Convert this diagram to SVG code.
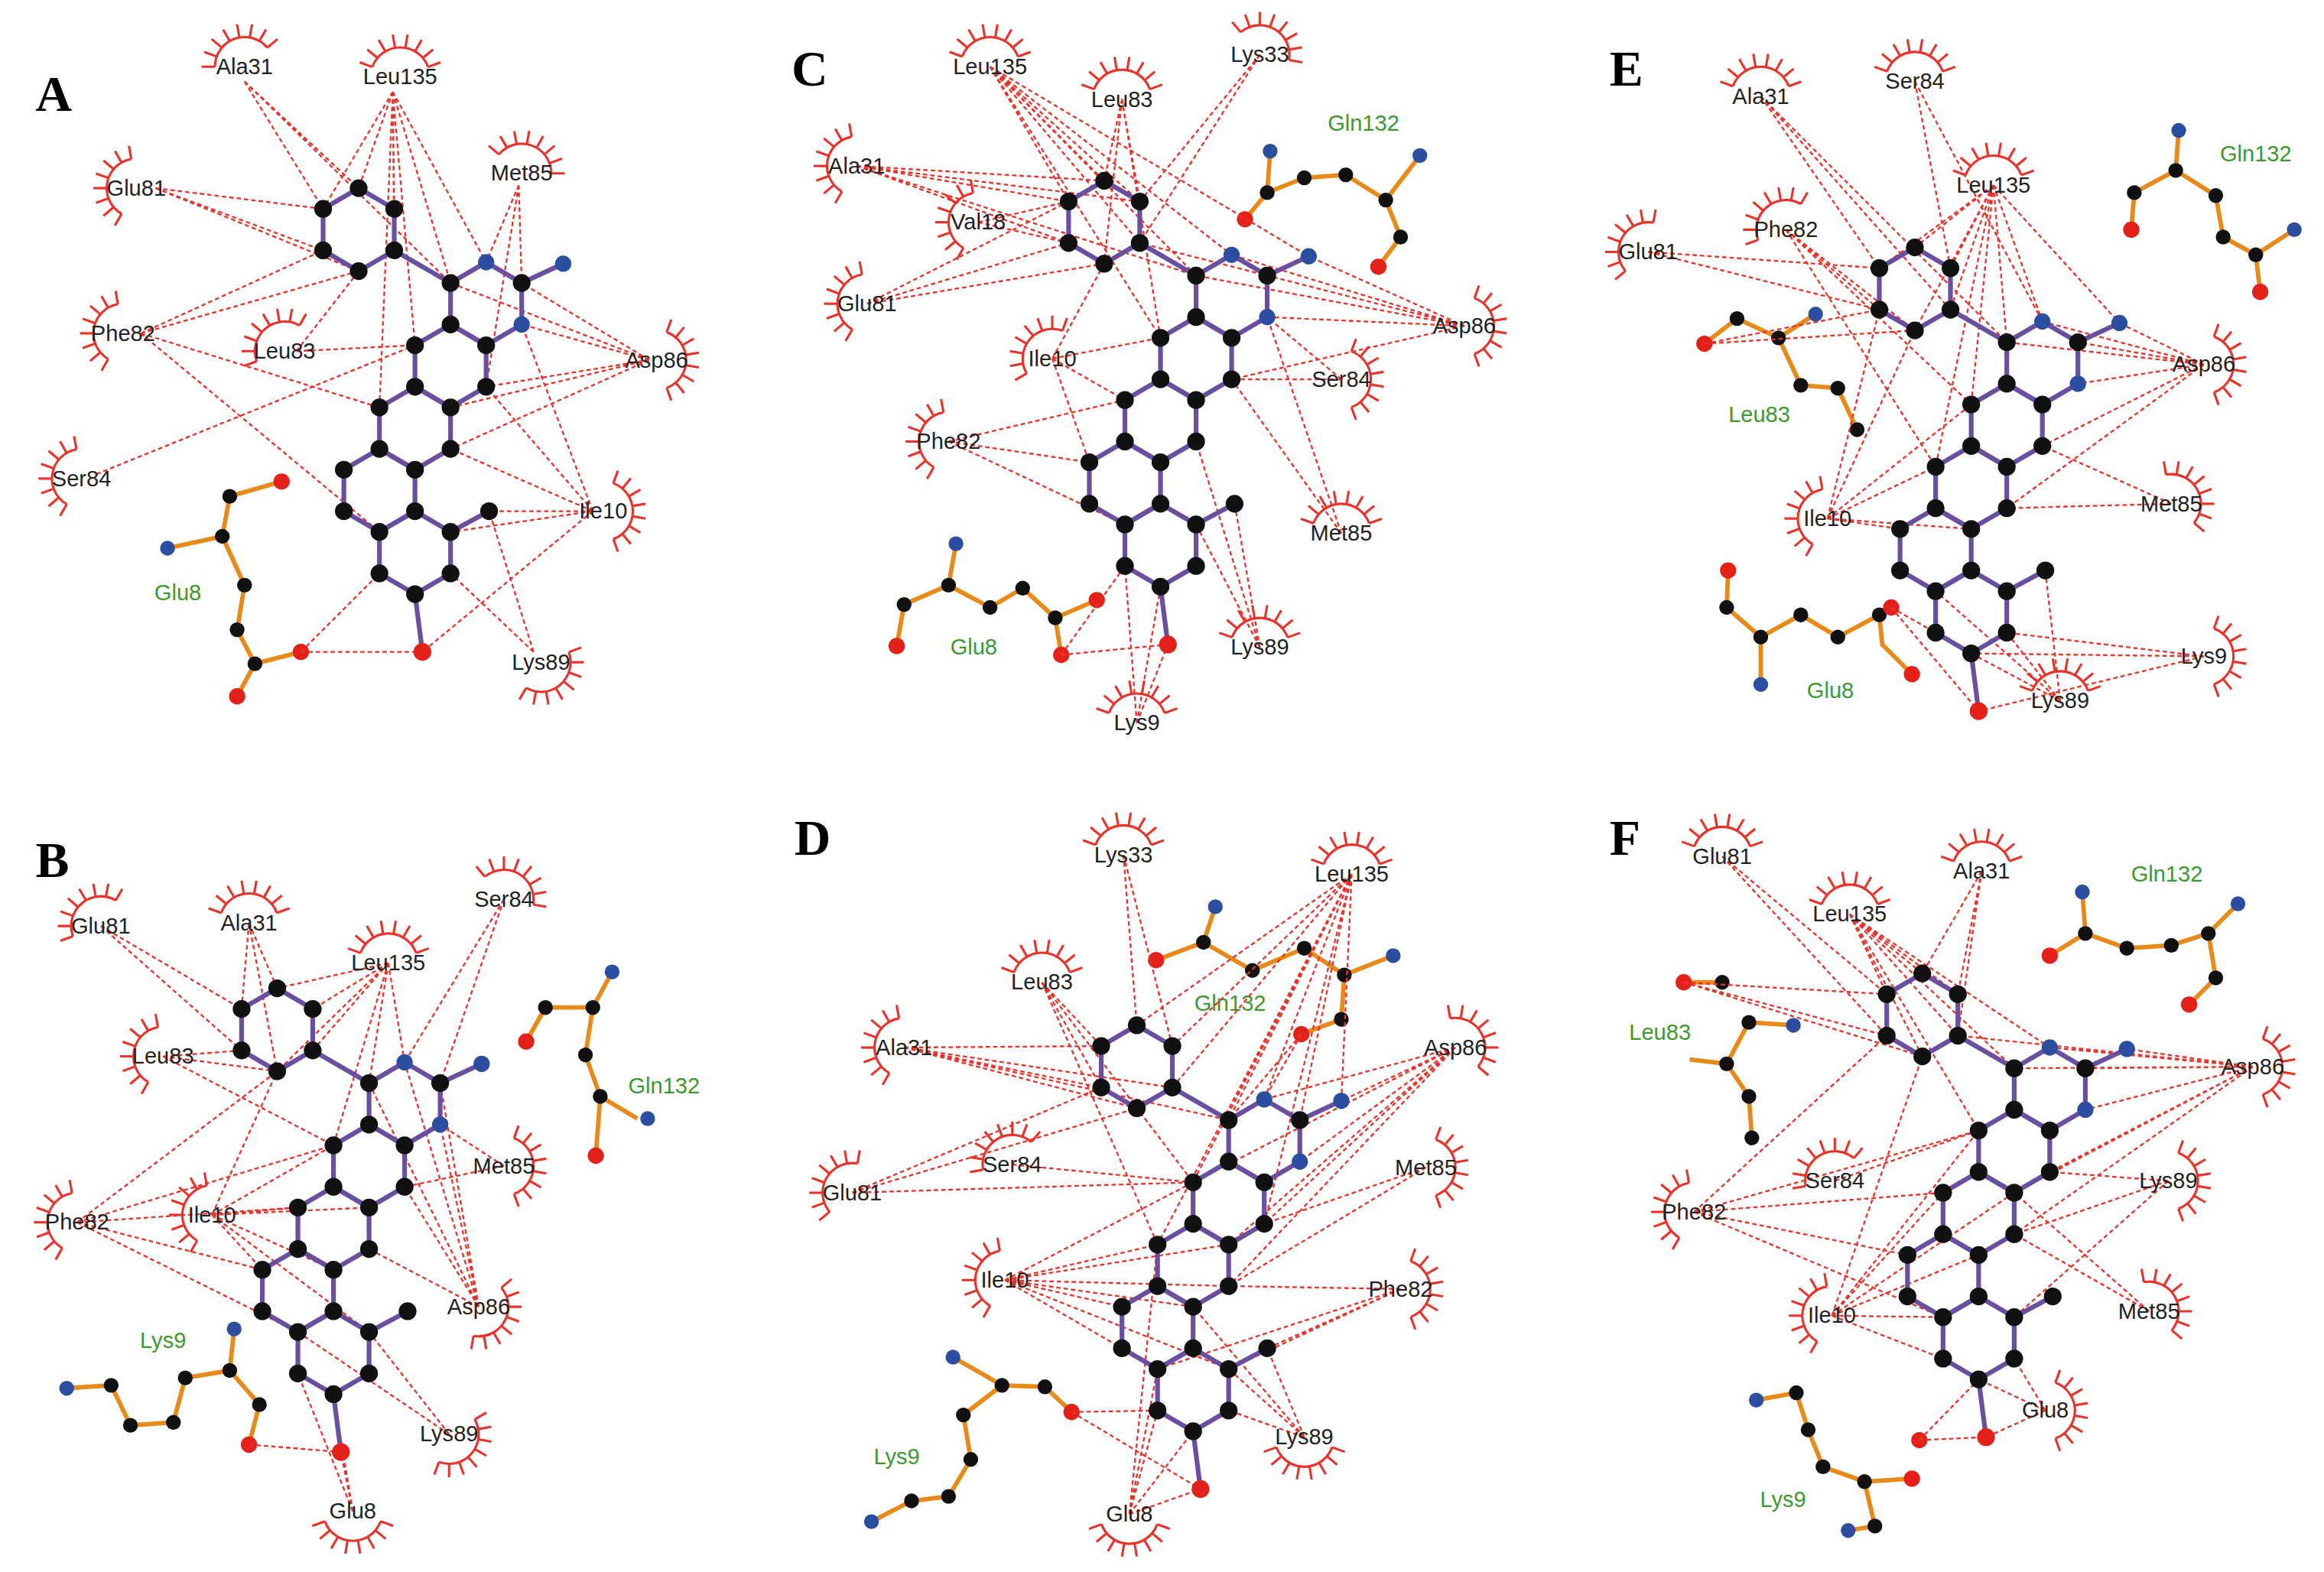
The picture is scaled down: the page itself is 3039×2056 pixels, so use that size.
<svg xmlns="http://www.w3.org/2000/svg" xmlns:xlink="http://www.w3.org/1999/xlink" width="3039" height="2056" viewBox="0 0 3039 2056">
<style>
.hb{fill:none;stroke:#e8322a;stroke-width:1.2;stroke-dasharray:3 2}
.ey{fill:none;stroke:#e8322a;stroke-width:1.6}
.bd{fill:none;stroke:#6a4fa0;stroke-width:3.2;stroke-linejoin:round}
.ch{fill:none;stroke:#e88a1a;stroke-width:3}
.k{fill:#111}.n{fill:#2b4ea0}.o{fill:#e32119}
.lb{font-family:"Liberation Sans",Arial,sans-serif;font-size:15px;fill:#222;text-anchor:middle}
.gr{font-family:"Liberation Sans",Arial,sans-serif;font-size:15px;fill:#3a9a2e;text-anchor:middle}
.pl{font-family:"Liberation Serif","Times New Roman",serif;font-size:34px;font-weight:bold;fill:#000}
</style>
<defs>
<g id="eye" class="ey">
<path d="M-18.8 -6.8A20 20 0 0 1 18.8 -6.8M-18.8 -6.8L-27.3 -9.9M-15.3 -12.9L-22.2 -18.6M-10 -17.3L-14.5 -25.1M-3.5 -19.7L-5 -28.6M3.5 -19.7L5 -28.6M10 -17.3L14.5 -25.1M15.3 -12.9L22.2 -18.6M18.8 -6.8L27.3 -9.9"/>
</g>
<g id="lig">
<g class="bd">
<polygon points="266,169 242,183 218,169 218,141 242,127 266,141"/>
<polygon points="352,219 328,233 304,219 304,191 328,177 352,191"/>
<polygon points="328,261 304,275 280,261 280,233 304,219 328,233"/>
<polygon points="304,303 280,317 256,303 256,275 280,261 304,275"/>
<polygon points="280,345 256,359 232,345 232,317 256,303 280,317"/>
<polygon points="304,387 280,401 256,387 256,359 280,345 304,359"/>
<path d="M266,169L304,191M352,191L380,178M280,401L285,440M304,359L330,345"/>
</g>
<g class="k">
<circle cx="266" cy="169" r="6"/><circle cx="242" cy="183" r="6"/><circle cx="218" cy="169" r="6"/><circle cx="218" cy="141" r="6"/><circle cx="242" cy="127" r="6"/><circle cx="266" cy="141" r="6"/>
<circle cx="328" cy="233" r="6"/><circle cx="304" cy="219" r="6"/><circle cx="304" cy="191" r="6"/><circle cx="352" cy="191" r="6"/>
<circle cx="328" cy="261" r="6"/><circle cx="304" cy="275" r="6"/><circle cx="280" cy="261" r="6"/><circle cx="280" cy="233" r="6"/>
<circle cx="304" cy="303" r="6"/><circle cx="280" cy="317" r="6"/><circle cx="256" cy="303" r="6"/><circle cx="256" cy="275" r="6"/>
<circle cx="280" cy="345" r="6"/><circle cx="256" cy="359" r="6"/><circle cx="232" cy="345" r="6"/><circle cx="232" cy="317" r="6"/>
<circle cx="304" cy="387" r="6"/><circle cx="280" cy="401" r="6"/><circle cx="256" cy="387" r="6"/><circle cx="304" cy="359" r="6"/><circle cx="330" cy="345" r="6"/>
</g>
<g class="n"><circle cx="328" cy="177" r="5.5"/><circle cx="352" cy="219" r="5.5"/><circle cx="380" cy="178" r="5.5"/></g>
<circle class="o" cx="285" cy="440" r="6"/>
</g>
</defs>
<rect width="3039" height="2056" fill="#fff"/>
<g transform="scale(1.9381 1.9378)">
<text class="pl" x="24" y="75">A</text><text class="pl" x="24" y="592">B</text>
<text class="pl" x="534" y="58">C</text><text class="pl" x="536" y="577">D</text>
<text class="pl" x="1086" y="58">E</text><text class="pl" x="1086" y="577">F</text>

<!-- Panel A -->
<g id="panelA">
<path class="ch" d="M113,370L150,362L155,335L190,325M150,362L165,395L160,425L172,448L203,440M172,448L160,470"/>
<g class="k"><circle cx="150" cy="362" r="5"/><circle cx="155" cy="335" r="5"/><circle cx="165" cy="395" r="5"/><circle cx="160" cy="425" r="5"/><circle cx="172" cy="448" r="5"/></g>
<circle class="n" cx="113" cy="370" r="5"/><circle class="o" cx="190" cy="325" r="5.5"/><circle class="o" cx="203" cy="440" r="5.5"/><circle class="o" cx="160" cy="470" r="5.5"/>
<text class="gr" x="120" y="405">Glu8</text>
<g id="connA"><path class="hb" d="M165 55L218 141M165 55L242 127M165 55L304 191M265 62L242 127M265 62L266 141M265 62L266 169M265 62L328 177M265 62L304 191M265 62L218 141M265 62L280 233M265 62L256 275M105 127L218 141M105 127L218 169M105 127L242 183M350 125L328 177M350 125L352 191M350 125L328 261M95 225L218 169M95 225L242 183M95 225L256 275M95 225L256 359M200 237L242 183M200 237L280 233M438 243L352 191M438 243L352 219M438 243L328 261M438 243L304 303M438 243L304 191M438 243L304 275M65 320L280 233M400 345L352 219M400 345L328 261M400 345L304 303M400 345L304 359M400 345L285 440M400 345L330 345M360 440L330 345M360 440L304 387M203 440L285 440M203 440L256 387"/></g>
<use href="#lig"/>
<g id="resA">
<use href="#eye" transform="translate(165 45) rotate(-20)"/><text class="lb" x="165" y="50">Ala31</text>
<use href="#eye" transform="translate(270 52)"/><text class="lb" x="270" y="57">Leu135</text>
<use href="#eye" transform="translate(92 127) rotate(-80)"/><text class="lb" x="92" y="132">Glu81</text>
<use href="#eye" transform="translate(352 117) rotate(20)"/><text class="lb" x="352" y="122">Met85</text>
<use href="#eye" transform="translate(83 225) rotate(-80)"/><text class="lb" x="83" y="230">Phe82</text>
<use href="#eye" transform="translate(192 237) rotate(-40)"/><text class="lb" x="192" y="242">Leu83</text>
<use href="#eye" transform="translate(443 243) rotate(90)"/><text class="lb" x="443" y="248">Asp86</text>
<use href="#eye" transform="translate(55 323) rotate(-80)"/><text class="lb" x="55" y="328">Ser84</text>
<use href="#eye" transform="translate(407 345) rotate(90)"/><text class="lb" x="407" y="350">Ile10</text>
<use href="#eye" transform="translate(365 447) rotate(140)"/><text class="lb" x="365" y="452">Lys89</text>
</g>
</g>

<!-- Panel B -->
<g id="panelB">
<path class="ch" d="M45,937L75,935L88,962L117,960L125,930L155,925L158,897M155,925L175,948L168,975M355,703L368,680L400,680L413,656M400,680L395,712L405,740L430,755M405,740L402,780"/>
<g class="k"><circle cx="75" cy="935" r="5"/><circle cx="88" cy="962" r="5"/><circle cx="117" cy="960" r="5"/><circle cx="125" cy="930" r="5"/><circle cx="155" cy="925" r="5"/><circle cx="175" cy="948" r="5"/><circle cx="368" cy="680" r="5"/><circle cx="400" cy="680" r="5"/><circle cx="395" cy="712" r="5"/><circle cx="405" cy="740" r="5"/></g>
<g class="n"><circle cx="45" cy="937" r="5"/><circle cx="158" cy="897" r="5"/><circle cx="413" cy="656" r="5"/><circle cx="437" cy="755" r="5"/></g>
<g class="o"><circle cx="168" cy="975" r="5.5"/><circle cx="355" cy="703" r="5.5"/><circle cx="402" cy="780" r="5.5"/></g>
<text class="gr" x="110" y="910">Lys9</text><text class="gr" x="448" y="738">Gln132</text>
<g transform="translate(-55 540)">
<g id="connB"><path class="hb" d="M123 85L218 141M123 85L218 169M223 83L218 141M223 83L242 127M223 83L242 183M317 110L242 127M317 110L266 141M317 110L266 169M317 110L328 177M317 110L304 191M317 110L242 183M317 110L280 233M395 67L328 177M395 67L352 191M165 173L218 169M165 173L242 183M165 173L280 233M395 247L352 219M395 247L328 261M107 285L242 183M107 285L280 233M107 285L256 275M107 285L232 317M107 285L256 359M198 280L242 183M198 280L280 233M198 280L304 275M198 280L256 275M198 280L280 317M198 280L232 317M198 280L304 359M378 342L328 177M378 342L352 191M378 342L352 219M378 342L328 261M378 342L304 303M378 342L304 191M358 428L256 359M358 428L304 359M293 480L280 401M293 480L285 440M293 480L256 387M223 435L285 440"/></g>
<use href="#lig"/>
</g>
<g id="resB">
<use href="#eye" transform="translate(68 625) rotate(-40)"/><text class="lb" x="68" y="630">Glu81</text>
<use href="#eye" transform="translate(168 623)"/><text class="lb" x="168" y="628">Ala31</text>
<use href="#eye" transform="translate(262 650)"/><text class="lb" x="262" y="655">Leu135</text>
<use href="#eye" transform="translate(340 607) rotate(30)"/><text class="lb" x="340" y="612">Ser84</text>
<use href="#eye" transform="translate(110 713) rotate(-80)"/><text class="lb" x="110" y="718">Leu83</text>
<use href="#eye" transform="translate(340 787) rotate(90)"/><text class="lb" x="340" y="792">Met85</text>
<use href="#eye" transform="translate(52 825) rotate(-80)"/><text class="lb" x="52" y="830">Phe82</text>
<use href="#eye" transform="translate(143 820) rotate(-80)"/><text class="lb" x="143" y="825">Ile10</text>
<use href="#eye" transform="translate(323 882) rotate(120)"/><text class="lb" x="323" y="887">Asp86</text>
<use href="#eye" transform="translate(303 968) rotate(130)"/><text class="lb" x="303" y="973">Lys89</text>
<use href="#eye" transform="translate(238 1020) rotate(180)"/><text class="lb" x="238" y="1025">Glu8</text>
</g>
</g>

<!-- Panel C -->
<g id="panelC">
<path class="ch" d="M857,102L855,130L840,148M855,130L880,120L908,118L935,135L958,105M935,135L945,160L930,180M605,436L610,408L640,395L645,367M640,395L668,410L690,397L712,417L716,442M712,417L740,405"/>
<g class="k"><circle cx="855" cy="130" r="5"/><circle cx="880" cy="120" r="5"/><circle cx="908" cy="118" r="5"/><circle cx="935" cy="135" r="5"/><circle cx="945" cy="160" r="5"/><circle cx="610" cy="408" r="5"/><circle cx="640" cy="395" r="5"/><circle cx="668" cy="410" r="5"/><circle cx="690" cy="397" r="5"/><circle cx="712" cy="417" r="5"/></g>
<g class="n"><circle cx="857" cy="102" r="5"/><circle cx="958" cy="105" r="5"/><circle cx="645" cy="367" r="5"/></g>
<g class="o"><circle cx="840" cy="148" r="5.5"/><circle cx="930" cy="180" r="5.5"/><circle cx="605" cy="436" r="5.5"/><circle cx="716" cy="442" r="5.5"/><circle cx="740" cy="405" r="5.5"/></g>
<text class="gr" x="920" y="88">Gln132</text><text class="gr" x="657" y="442">Glu8</text>
<g transform="translate(503 -5)">
<g id="connC"><path class="hb" d="M165 50L242 127M165 50L266 141M165 50L218 141M165 50L266 169M165 50L328 177M165 50L304 191M165 50L380 178M165 50L280 233M347 42L266 141M347 42L266 169M254 72L242 127M254 72L266 141M254 72L242 183M254 72L280 233M75 117L242 127M75 117L218 141M75 117L218 169M75 117L266 141M75 117L304 191M157 155L218 141M157 155L218 169M82 210L218 141M82 210L218 169M82 210L242 183M485 225L328 177M485 225L352 191M485 225L352 219M485 225L380 178M485 225L328 261M485 225L304 191M485 225L266 169M207 247L242 183M207 247L280 233M207 247L256 275M207 247L232 317M402 261L328 261M402 261L352 219M137 303L256 275M137 303L232 317M137 303L256 359M402 365L328 261M402 365L352 219M347 442L304 359M347 442L330 345M347 442L304 303M264 493L285 440M264 493L280 401M264 493L256 387M213 447L285 440M213 447L256 387"/></g>
<use href="#lig"/>
</g>
<g id="resC">
<use href="#eye" transform="translate(668 45)"/><text class="lb" x="668" y="50">Leu135</text>
<use href="#eye" transform="translate(850 37) rotate(30)"/><text class="lb" x="850" y="42">Lys33</text>
<use href="#eye" transform="translate(757 67)"/><text class="lb" x="757" y="72">Leu83</text>
<use href="#eye" transform="translate(578 112) rotate(-80)"/><text class="lb" x="578" y="117">Ala31</text>
<use href="#eye" transform="translate(660 150) rotate(-80)"/><text class="lb" x="660" y="155">Val18</text>
<use href="#eye" transform="translate(585 205) rotate(-80)"/><text class="lb" x="585" y="210">Glu81</text>
<use href="#eye" transform="translate(988 220) rotate(90)"/><text class="lb" x="988" y="225">Asp86</text>
<use href="#eye" transform="translate(710 242) rotate(-50)"/><text class="lb" x="710" y="247">Ile10</text>
<use href="#eye" transform="translate(905 256) rotate(90)"/><text class="lb" x="905" y="261">Ser84</text>
<use href="#eye" transform="translate(640 298) rotate(-80)"/><text class="lb" x="640" y="303">Phe82</text>
<use href="#eye" transform="translate(905 360)"/><text class="lb" x="905" y="365">Met85</text>
<use href="#eye" transform="translate(850 437)"/><text class="lb" x="850" y="442">Lys89</text>
<use href="#eye" transform="translate(767 488)"/><text class="lb" x="767" y="493">Lys9</text>
</g>
</g>

<!-- Panel D -->
<g id="panelD">
<path class="ch" d="M780,648L812,636L820,612M812,636L845,655L880,640L907,658L940,645M907,658L905,688L878,698M643,916L676,935L705,936L723,953M676,935L650,955L655,985L640,1010L615,1013L588,1027"/>
<g class="k"><circle cx="812" cy="636" r="5"/><circle cx="845" cy="655" r="5"/><circle cx="880" cy="640" r="5"/><circle cx="907" cy="658" r="5"/><circle cx="905" cy="688" r="5"/><circle cx="676" cy="935" r="5"/><circle cx="705" cy="936" r="5"/><circle cx="650" cy="955" r="5"/><circle cx="655" cy="985" r="5"/><circle cx="640" cy="1010" r="5"/><circle cx="615" cy="1013" r="5"/></g>
<g class="n"><circle cx="820" cy="612" r="5"/><circle cx="940" cy="645" r="5"/><circle cx="643" cy="916" r="5"/><circle cx="588" cy="1027" r="5"/></g>
<g class="o"><circle cx="780" cy="648" r="5.5"/><circle cx="878" cy="698" r="5.5"/><circle cx="723" cy="953" r="5.5"/></g>
<text class="gr" x="830" y="682">Gln132</text><text class="gr" x="605" y="988">Lys9</text>
<g transform="translate(525 565)">
<g id="connD"><path class="hb" d="M233 12L242 127M233 12L266 141M387 25L242 127M387 25L266 141M387 25L266 169M387 25L304 191M387 25L328 177M387 25L380 178M387 25L352 191M387 25L328 261M387 25L280 233M387 25L256 275M178 98L218 141M178 98L218 169M178 98L280 233M178 98L256 275M85 142L218 141M85 142L218 169M85 142L242 183M85 142L266 169M85 142L304 191M457 142L328 177M457 142L352 191M457 142L352 219M457 142L328 261M457 142L304 303M457 142L304 275M457 142L280 233M158 221L280 233M437 223L328 261M437 223L304 303M50 240L218 169M50 240L242 183M50 240L280 233M153 299L280 233M153 299L304 275M153 299L304 303M153 299L256 275M153 299L280 317M153 299L232 345M153 299L232 317M153 299L256 359M153 299L304 359M420 305L304 303M420 305L304 359M420 305L330 345M420 305L256 359M355 405L304 387M355 405L330 345M355 405L280 317M355 405L304 359M237 457L280 401M237 457L285 440M237 457L256 387M237 457L256 359M237 457L256 275M198 388L285 440M198 388L256 387M353 133L328 177M353 133L304 191"/></g>
<use href="#lig"/>
</g>
<g id="resD">
<use href="#eye" transform="translate(758 577)"/><text class="lb" x="758" y="582">Lys33</text>
<use href="#eye" transform="translate(912 590)"/><text class="lb" x="912" y="595">Leu135</text>
<use href="#eye" transform="translate(703 663)"/><text class="lb" x="703" y="668">Leu83</text>
<use href="#eye" transform="translate(610 707) rotate(-80)"/><text class="lb" x="610" y="712">Ala31</text>
<use href="#eye" transform="translate(982 707) rotate(60)"/><text class="lb" x="982" y="712">Asp86</text>
<use href="#eye" transform="translate(683 786) rotate(-30)"/><text class="lb" x="683" y="791">Ser84</text>
<use href="#eye" transform="translate(962 788) rotate(90)"/><text class="lb" x="962" y="793">Met85</text>
<use href="#eye" transform="translate(575 805) rotate(-60)"/><text class="lb" x="575" y="810">Glu81</text>
<use href="#eye" transform="translate(678 864) rotate(-80)"/><text class="lb" x="678" y="869">Ile10</text>
<use href="#eye" transform="translate(945 870) rotate(90)"/><text class="lb" x="945" y="875">Phe82</text>
<use href="#eye" transform="translate(880 970) rotate(180)"/><text class="lb" x="880" y="975">Lys89</text>
<use href="#eye" transform="translate(762 1022) rotate(180)"/><text class="lb" x="762" y="1027">Glu8</text>
</g>
</g>

<!-- Panel E -->
<g id="panelE">
<path class="ch" d="M1438,155L1440,130L1468,115L1470,88M1468,115L1495,132L1500,160L1522,172L1548,155M1522,172L1525,197M1150,232L1172,215L1200,228L1225,212M1200,228L1215,260L1240,262L1253,290M1166,385L1165,410L1188,430L1188,462M1188,430L1215,415L1240,430L1268,415L1276,410M1268,415L1270,435L1290,455"/>
<g class="k"><circle cx="1440" cy="130" r="5"/><circle cx="1468" cy="115" r="5"/><circle cx="1495" cy="132" r="5"/><circle cx="1500" cy="160" r="5"/><circle cx="1522" cy="172" r="5"/><circle cx="1172" cy="215" r="5"/><circle cx="1200" cy="228" r="5"/><circle cx="1215" cy="260" r="5"/><circle cx="1240" cy="262" r="5"/><circle cx="1253" cy="290" r="5"/><circle cx="1165" cy="410" r="5"/><circle cx="1188" cy="430" r="5"/><circle cx="1215" cy="415" r="5"/><circle cx="1240" cy="430" r="5"/><circle cx="1268" cy="415" r="5"/></g>
<g class="n"><circle cx="1470" cy="88" r="5"/><circle cx="1548" cy="155" r="5"/><circle cx="1225" cy="212" r="5"/><circle cx="1188" cy="462" r="5"/></g>
<g class="o"><circle cx="1438" cy="155" r="5.5"/><circle cx="1525" cy="197" r="5.5"/><circle cx="1150" cy="232" r="5.5"/><circle cx="1166" cy="385" r="5.5"/><circle cx="1276" cy="410" r="5.5"/><circle cx="1290" cy="455" r="5.5"/></g>
<text class="gr" x="1522" y="109">Gln132</text><text class="gr" x="1187" y="285">Leu83</text><text class="gr" x="1235" y="471">Glu8</text>
<g transform="translate(1050 40)">
<g id="connE"><path class="hb" d="M138 25L218 141M138 25L266 169M138 25L304 191M242 15L266 141M242 15L328 177M295 85L242 127M295 85L266 141M295 85L218 141M295 85L266 169M295 85L242 183M295 85L328 177M295 85L304 191M295 85L280 233M295 85L256 275M295 85L380 178M155 115L218 169M155 115L242 183M155 115L280 233M155 115L256 275M62 130L218 141M62 130L218 169M437 206L328 177M437 206L352 191M437 206L352 219M437 206L380 178M437 206L328 261M437 206L304 303M437 206L304 191M415 300L328 261M415 300L304 303M183 310L280 233M183 310L256 275M183 310L232 317M183 310L242 183M183 310L218 169M183 310L280 317M340 433L304 387M340 433L280 401M340 433L330 345M340 433L256 359M437 403L285 440M437 403L304 387M437 403L280 401M226 370L285 440M226 370L256 387M100 192L218 169M100 192L242 183"/></g>
<use href="#lig"/>
</g>
<g id="resE">
<use href="#eye" transform="translate(1188 65)"/><text class="lb" x="1188" y="70">Ala31</text>
<use href="#eye" transform="translate(1292 55)"/><text class="lb" x="1292" y="60">Ser84</text>
<use href="#eye" transform="translate(1345 125)"/><text class="lb" x="1345" y="130">Leu135</text>
<use href="#eye" transform="translate(1205 155) rotate(-40)"/><text class="lb" x="1205" y="160">Phe82</text>
<use href="#eye" transform="translate(1112 170) rotate(-60)"/><text class="lb" x="1112" y="175">Glu81</text>
<use href="#eye" transform="translate(1487 246) rotate(90)"/><text class="lb" x="1487" y="251">Asp86</text>
<use href="#eye" transform="translate(1465 340) rotate(60)"/><text class="lb" x="1465" y="345">Met85</text>
<use href="#eye" transform="translate(1233 350) rotate(-80)"/><text class="lb" x="1233" y="355">Ile10</text>
<use href="#eye" transform="translate(1390 473)"/><text class="lb" x="1390" y="478">Lys89</text>
<use href="#eye" transform="translate(1487 443) rotate(90)"/><text class="lb" x="1487" y="448">Lys9</text>
</g>
</g>

<!-- Panel F -->
<g id="panelF">
<path class="ch" d="M1383,645L1407,630L1405,602M1407,630L1435,640L1465,638L1490,630L1510,610M1490,630L1495,660L1477,678M1136,663L1162,663M1180,690L1165,718L1180,740L1182,768M1180,690L1210,692M1165,718L1140,715M1185,945L1212,940L1220,965L1230,990L1258,1000L1265,1030L1247,1033M1258,1000L1290,998"/>
<g class="k"><circle cx="1162" cy="663" r="5"/><circle cx="1407" cy="630" r="5"/><circle cx="1435" cy="640" r="5"/><circle cx="1465" cy="638" r="5"/><circle cx="1490" cy="630" r="5"/><circle cx="1495" cy="660" r="5"/><circle cx="1180" cy="690" r="5"/><circle cx="1165" cy="718" r="5"/><circle cx="1180" cy="740" r="5"/><circle cx="1182" cy="768" r="5"/><circle cx="1212" cy="940" r="5"/><circle cx="1220" cy="965" r="5"/><circle cx="1230" cy="990" r="5"/><circle cx="1258" cy="1000" r="5"/><circle cx="1265" cy="1030" r="5"/></g>
<g class="n"><circle cx="1405" cy="602" r="5"/><circle cx="1510" cy="610" r="5"/><circle cx="1210" cy="692" r="5"/><circle cx="1185" cy="945" r="5"/><circle cx="1247" cy="1033" r="5"/></g>
<g class="o"><circle cx="1383" cy="645" r="5.5"/><circle cx="1477" cy="678" r="5.5"/><circle cx="1136" cy="663" r="5.5"/><circle cx="1290" cy="998" r="5.5"/><circle cx="1295" cy="972" r="5.5"/></g>
<text class="gr" x="1462" y="595">Gln132</text><text class="gr" x="1120" y="702">Leu83</text><text class="gr" x="1203" y="1017">Lys9</text>
<g transform="translate(1055 530)">
<g id="connF"><path class="hb" d="M107 48L218 141M107 48L218 169M282 58L242 127M282 58L266 141M282 58L266 169M193 87L242 127M193 87L266 141M193 87L218 141M193 87L266 169M193 87L242 183M193 87L328 177M193 87L304 191M193 87L280 233M465 190L328 177M465 190L352 191M465 190L352 219M465 190L380 178M465 190L328 261M465 190L304 303M465 190L266 169M465 190L304 191M465 190L304 275M183 267L280 233M408 267L328 261M408 267L304 303M408 267L304 359M88 288L280 233M88 288L256 275M88 288L218 169M88 288L232 317M88 288L256 359M395 355L304 275M395 355L304 303M181 358L280 233M181 358L304 275M181 358L256 275M181 358L280 317M181 358L256 359M181 358L256 387M181 358L242 183M325 422L285 440M325 422L280 401M325 422L304 387M81 133L218 141M81 133L218 169M81 133L242 183M240 442L285 440M240 442L280 401"/></g>
<use href="#lig"/>
</g>
<g id="resF">
<use href="#eye" transform="translate(1162 578)"/><text class="lb" x="1162" y="583">Glu81</text>
<use href="#eye" transform="translate(1337 588)"/><text class="lb" x="1337" y="593">Ala31</text>
<use href="#eye" transform="translate(1248 617)"/><text class="lb" x="1248" y="622">Leu135</text>
<use href="#eye" transform="translate(1520 720) rotate(90)"/><text class="lb" x="1520" y="725">Asp86</text>
<use href="#eye" transform="translate(1238 797) rotate(-30)"/><text class="lb" x="1238" y="802">Ser84</text>
<use href="#eye" transform="translate(1463 797) rotate(90)"/><text class="lb" x="1463" y="802">Lys89</text>
<use href="#eye" transform="translate(1143 818) rotate(-80)"/><text class="lb" x="1143" y="823">Phe82</text>
<use href="#eye" transform="translate(1450 885) rotate(60)"/><text class="lb" x="1450" y="890">Met85</text>
<use href="#eye" transform="translate(1236 888) rotate(-80)"/><text class="lb" x="1236" y="893">Ile10</text>
<use href="#eye" transform="translate(1380 952) rotate(90)"/><text class="lb" x="1380" y="957">Glu8</text>
</g>
</g>
</g>
</svg>
